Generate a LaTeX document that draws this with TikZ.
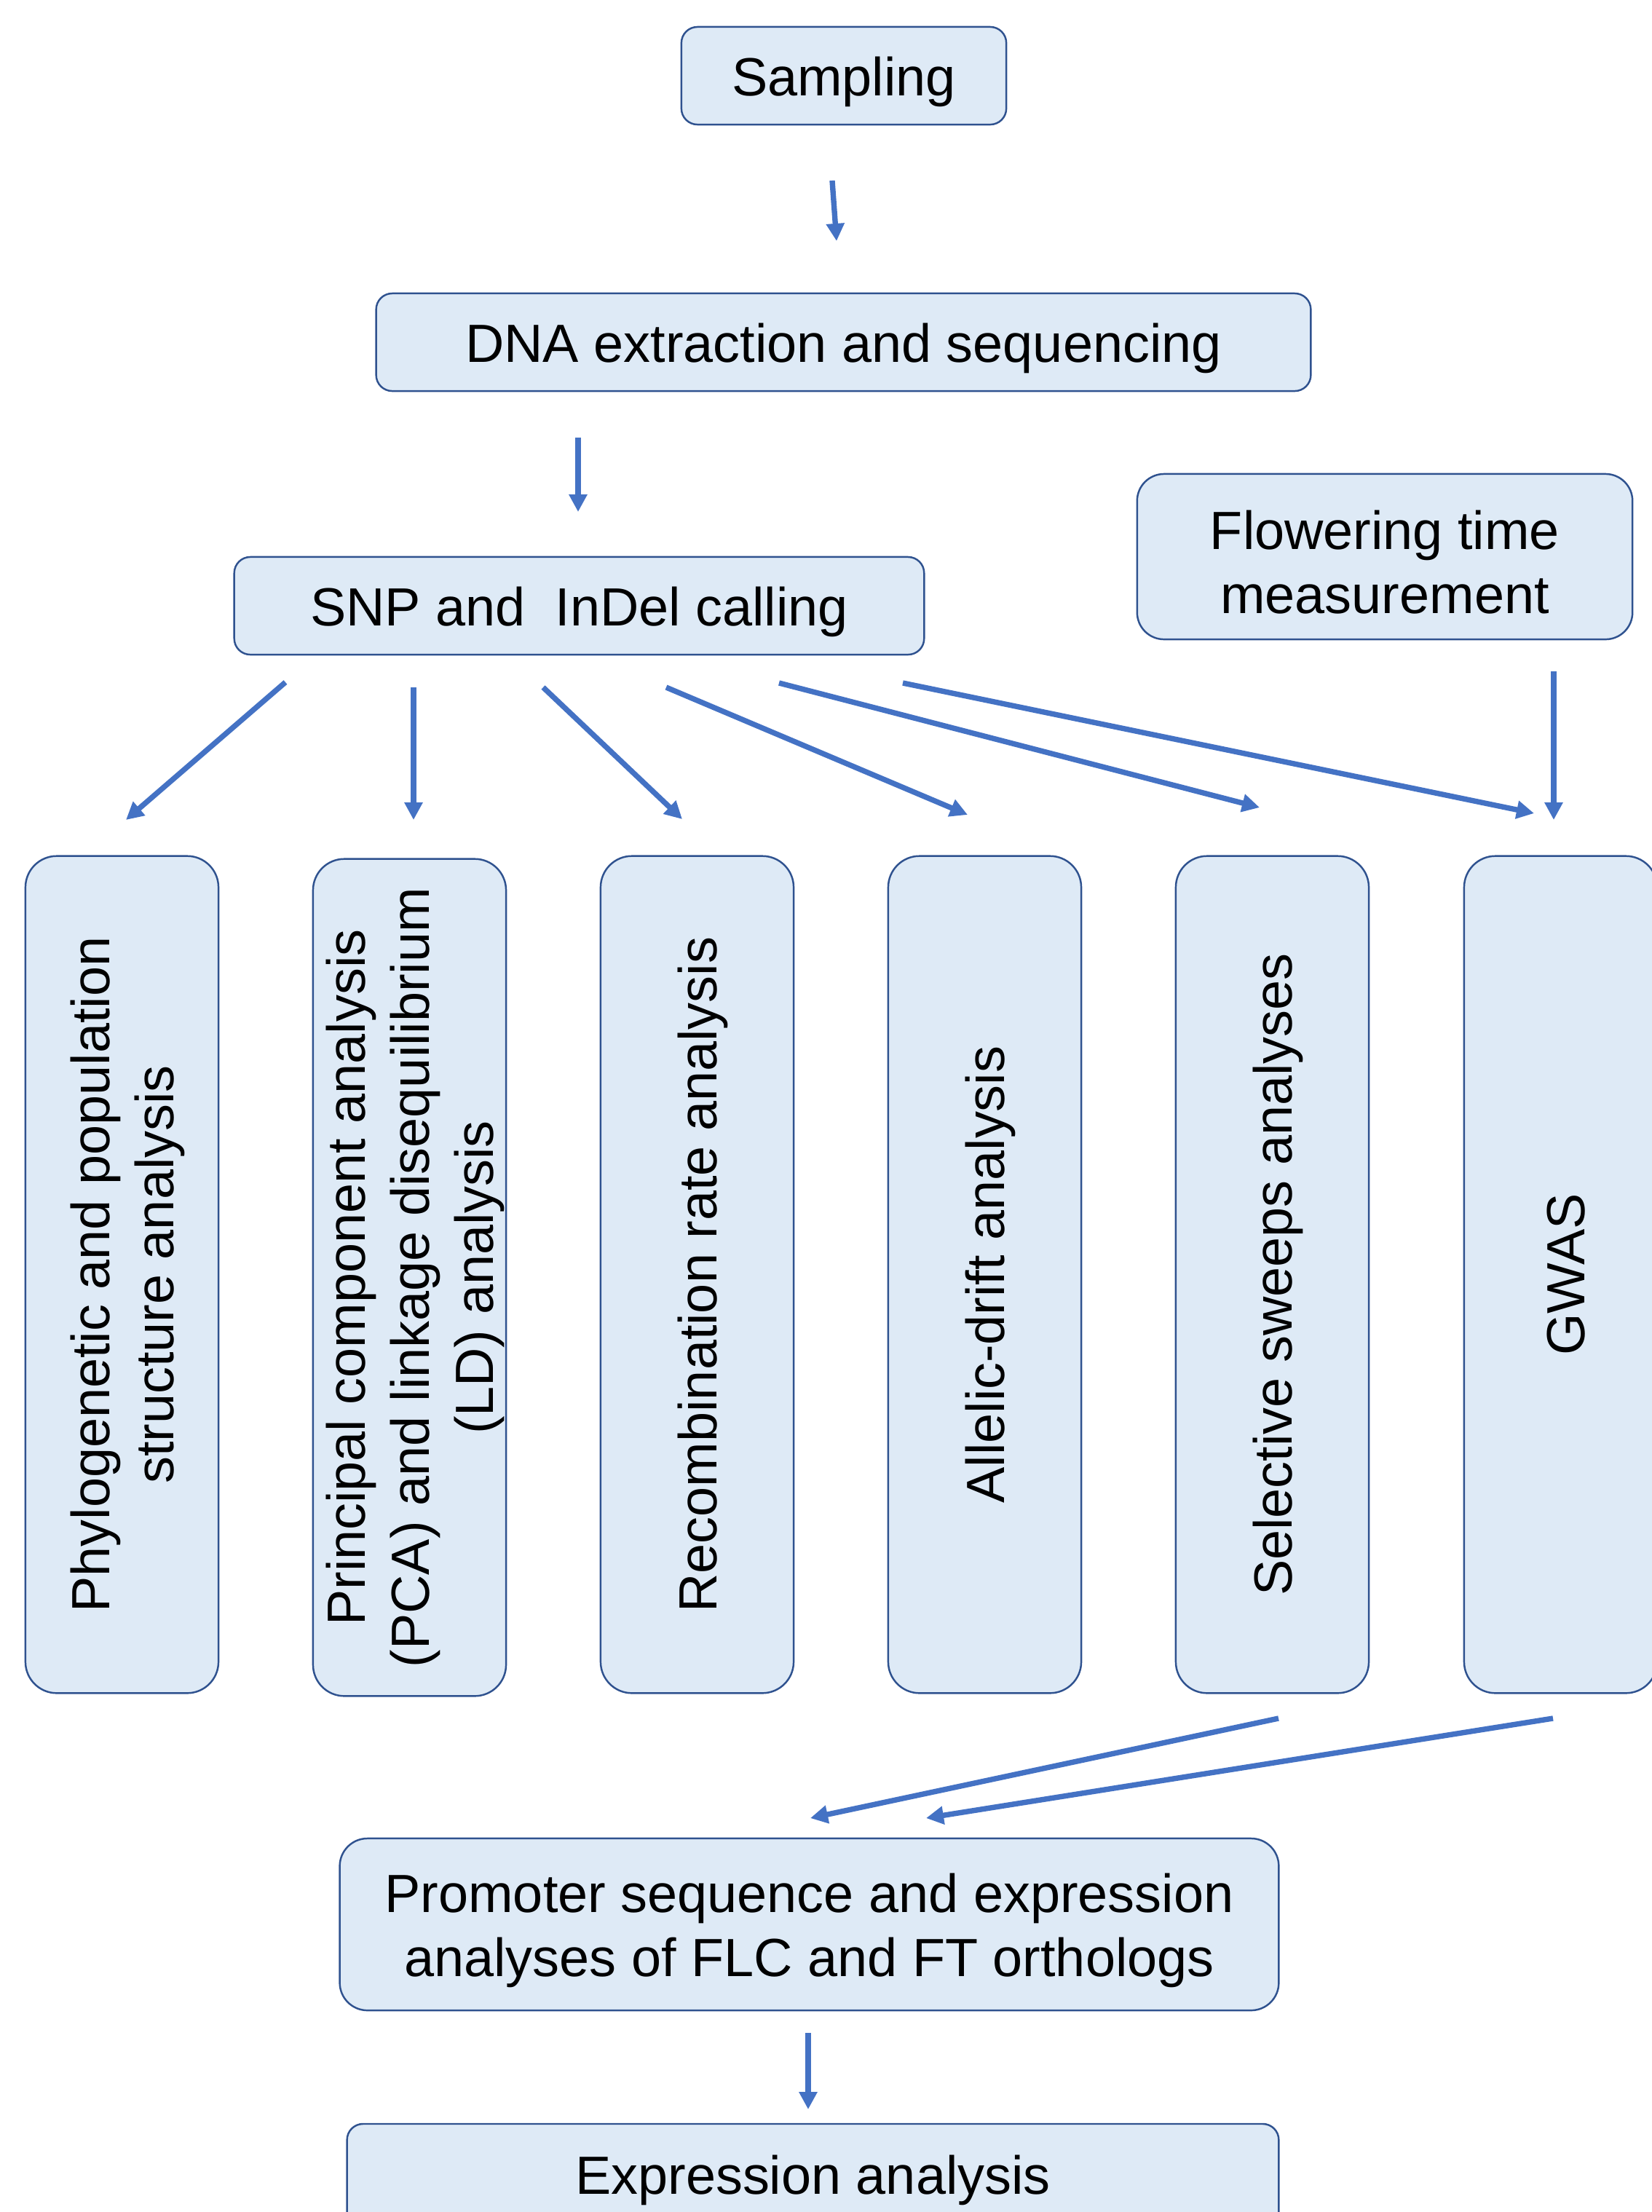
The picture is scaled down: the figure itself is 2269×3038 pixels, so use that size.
\documentclass[tikz,border=0pt]{standalone}
\usepackage{fontspec}
\setmainfont{Liberation Sans}
\usetikzlibrary{arrows.meta}
\definecolor{boxfill}{HTML}{DEEAF6}
\definecolor{boxline}{HTML}{2F528F}
\definecolor{arrowc}{HTML}{4472C4}
\begin{document}
\begin{tikzpicture}[x=0.01cm,y=-0.01cm,
  box/.style={draw=boxline, fill=boxfill, line width=0.7pt, inner sep=0pt},
  txt/.style={inner sep=0pt, align=center, text=black, font=\fontsize{21}{25}\selectfont},
  tallbox/.style={box, rotate=90, minimum width=11.49cm, minimum height=2.65cm, rounded corners=0.43cm},
  arr/.style={draw=arrowc, line width=2.1pt, -{Triangle[length=0.24cm,width=0.24cm]}}]
\useasboundingbox (0,0) rectangle (2269,3038);
\clip (0,0) rectangle (2269,3038);

\node[box, minimum width=4.46cm, minimum height=1.34cm, rounded corners=0.22cm] (samp) at (1159,104) {};
\node[txt] (samp-t) at ([yshift=-0.08cm]samp.center) {Sampling};
\node[box, minimum width=12.83cm, minimum height=1.34cm, rounded corners=0.22cm] (dna) at (1158.5,470) {};
\node[txt] (dna-t) at ([yshift=-0.08cm]dna.center) {DNA extraction and sequencing};
\node[box, minimum width=9.47cm, minimum height=1.34cm, rounded corners=0.22cm] (snp) at (795.5,832) {};
\node[txt] (snp-t) at ([yshift=-0.08cm]snp.center) {SNP and\ \ InDel calling};
\node[box, minimum width=6.80cm, minimum height=2.27cm, rounded corners=0.37cm] (flow) at (1902,764.5) {};
\node[txt] (flow-t) at ([yshift=-0.08cm]flow.center) {Flowering time\\measurement};

\node[tallbox] (phy) at (167.5,1750.5) {};
\node[txt, rotate=90] (phy-t) at ([xshift=0.08cm]phy.center) {Phylogenetic and population\\structure analysis};
\node[tallbox] (pca) at (562.5,1754.5) {};
\node[txt, rotate=90] (pca-t) at ([xshift=0.08cm]pca.center) {Principal component analysis\\(PCA) and linkage disequilibrium\\(LD) analysis};
\node[tallbox] (rec) at (957.5,1750.5) {};
\node[txt, rotate=90] (rec-t) at ([xshift=0.08cm]rec.center) {Recombination rate analysis};
\node[tallbox] (all) at (1352.5,1750.5) {};
\node[txt, rotate=90] (all-t) at ([xshift=0.08cm]all.center) {Allelic-drift analysis};
\node[tallbox] (sel) at (1747.5,1750.5) {};
\node[txt, rotate=90] (sel-t) at ([xshift=0.08cm]sel.center) {Selective sweeps analyses};
\node[tallbox] (gwas) at (2143.5,1750.5) {};
\node[txt, rotate=90] (gwas-t) at ([xshift=0.08cm]gwas.center) {GWAS};

\node[box, minimum width=12.89cm, minimum height=2.36cm, rounded corners=0.38cm] (prom) at (1111.5,2643) {};
\node[txt] (prom-t) at ([yshift=-0.08cm]prom.center) {Promoter sequence and expression\\analyses of FLC and FT orthologs};
\node[box, minimum width=12.79cm, minimum height=1.50cm, rounded corners=0.22cm] (expr) at (1116.5,2992) {};
\node[txt] (expr-t) at (1116.5,2994) {Expression analysis};

% arrow end points
\coordinate (a1s) at (1143,248);  \coordinate (a1e) at (1149,331);
\coordinate (a2s) at (794,601);   \coordinate (a2e) at (794,703);
\coordinate (a3s) at (2134,922);  \coordinate (a3e) at (2134,1126);
\coordinate (s1s) at (392,937);   \coordinate (s1e) at (173,1126);
\coordinate (s2s) at (568,944);   \coordinate (s2e) at (568,1126);
\coordinate (s3s) at (746,944);   \coordinate (s3e) at (937,1125);
\coordinate (s4s) at (915,944);   \coordinate (s4e) at (1329,1119);
\coordinate (s5s) at (1070,938);  \coordinate (s5e) at (1730,1109);
\coordinate (s6s) at (1240,938);  \coordinate (s6e) at (2107,1117);
\coordinate (b1s) at (1756,2360); \coordinate (b1e) at (1113,2497);
\coordinate (b2s) at (2133,2360); \coordinate (b2e) at (1272,2497);
\coordinate (cs) at (1110,2792);  \coordinate (ce) at (1110,2897);

\draw[arr] (a1s) -- (a1e);
\draw[arr] (a2s) -- (a2e);
\draw[arr] (a3s) -- (a3e);
\draw[arr] (s1s) -- (s1e);
\draw[arr] (s2s) -- (s2e);
\draw[arr] (s3s) -- (s3e);
\draw[arr] (s4s) -- (s4e);
\draw[arr] (s5s) -- (s5e);
\draw[arr] (s6s) -- (s6e);
\draw[arr] (b1s) -- (b1e);
\draw[arr] (b2s) -- (b2e);
\draw[arr] (cs) -- (ce);
\end{tikzpicture}
\end{document}
